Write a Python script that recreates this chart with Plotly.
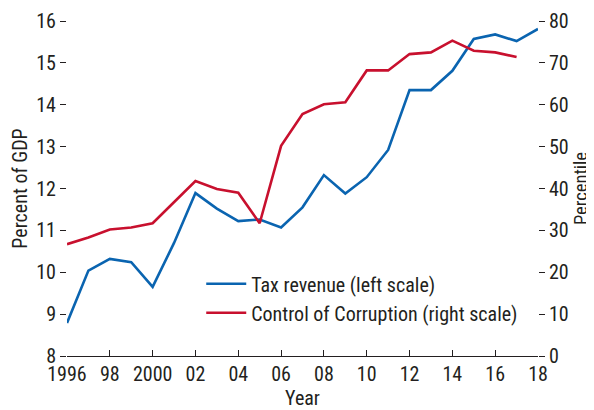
import plotly.graph_objects as go

years = list(range(1996, 2019))
tax_revenue = [8.79, 10.04, 10.32, 10.24, 9.65, 10.70, 11.89, 11.52, 11.22, 11.26,
               11.07, 11.55, 12.32, 11.88, 12.27, 12.92, 14.35, 14.35, 14.81, 15.57,
               15.68, 15.52, 15.81]
corruption_years = list(range(1996, 2018))
control_of_corruption = [26.7, 28.3, 30.2, 30.7, 31.7, 36.7, 41.8, 39.9, 39.0, 31.7,
                         50.2, 57.8, 60.1, 60.6, 68.2, 68.2, 72.1, 72.5, 75.3, 72.9,
                         72.5, 71.4]
x_tickvals = list(range(1996, 2019, 2))
x_ticktext = ["1996", "98", "2000", "02", "04", "06", "08", "10", "12", "14", "16", "18"]

BLUE = "#0a64b0"
RED = "#c8102e"
INK = "#231f20"
FONT = "Liberation Sans Narrow, Arial Narrow, Roboto Condensed, Liberation Sans, Arial, sans-serif"


def title_font(size):
    return dict(family=FONT, size=size, color=INK)


fig = go.Figure()
fig.add_trace(go.Scatter(x=years, y=tax_revenue, mode="lines", name="Tax revenue (left scale)",
                         line=dict(color=BLUE, width=2.6)))
fig.add_trace(go.Scatter(x=corruption_years, y=control_of_corruption, mode="lines",
                         name="Control of Corruption (right scale)", yaxis="y2",
                         line=dict(color=RED, width=2.6)))

# page body adds ~8px offset, so margins are shifted to land the plot area where the reference has it
fig.update_layout(
    width=594, height=410,
    margin=dict(l=59, r=64, t=13, b=62),
    plot_bgcolor="white", paper_bgcolor="white",
    font=dict(family=FONT, size=20, color=INK),
    showlegend=True,
    legend=dict(x=0.285, y=0.274, xanchor="left", yanchor="top", bgcolor="rgba(0,0,0,0)",
                font=dict(size=20), tracegroupgap=0, itemwidth=40),
    xaxis=dict(range=[1996, 2018], tickvals=x_tickvals, ticktext=x_ticktext,
               ticks="inside", ticklen=6, tickcolor=INK, showline=True, linecolor=INK,
               linewidth=1, showgrid=False, zeroline=False, automargin=False,
               title=dict(text="Year", standoff=0, font=title_font(20))),
    yaxis=dict(range=[8, 16], dtick=1, ticks="outside", ticklen=6, tickcolor=INK,
               showline=False, showgrid=False, zeroline=False, automargin=False,
               title=dict(text="Percent of GDP", standoff=5, font=title_font(20))),
    yaxis2=dict(range=[0, 80], dtick=10, overlaying="y", side="right", ticks="outside",
                ticklen=6, tickcolor=INK, showline=False, showgrid=False, zeroline=False,
                automargin=False, title=dict(text="Percentile", standoff=6, font=title_font(18.5))),
)

fig.write_html("out.html")
